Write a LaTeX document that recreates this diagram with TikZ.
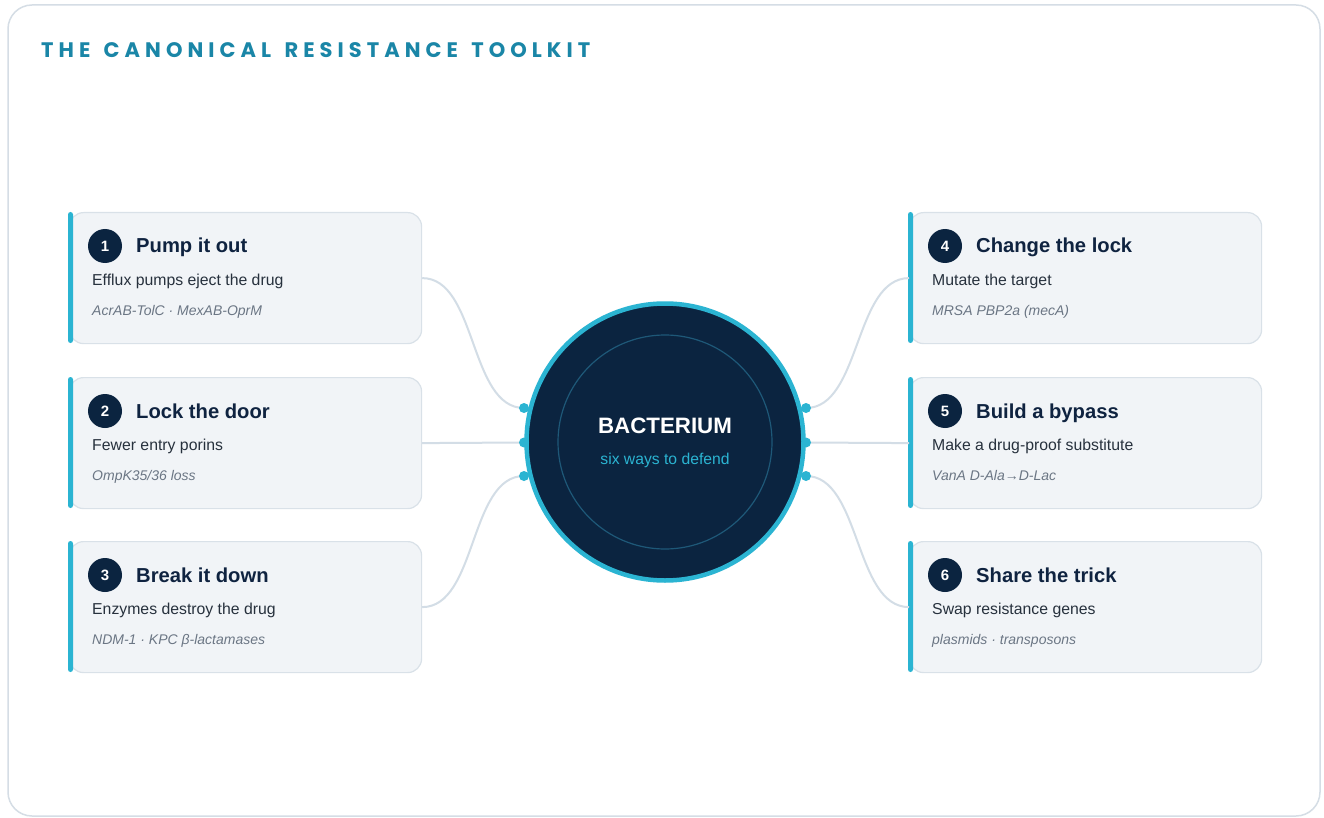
\documentclass[tikz,border=0pt]{standalone}
\usepackage{fontspec}
\setmainfont{Liberation Sans}
\newfontfamily\titlefont[LetterSpace=24,WordSpace=1.4]{Poppins}

\definecolor{accent}{HTML}{2BB4D2}
\definecolor{navy}{HTML}{0B2440}
\definecolor{cardfill}{HTML}{F1F4F7}
\definecolor{cardline}{HTML}{D9E1E8}
\definecolor{connline}{HTML}{D3DDE6}
\definecolor{titleblue}{HTML}{1A86A7}
\definecolor{headtext}{HTML}{0F2340}
\definecolor{bodytext}{HTML}{27313D}
\definecolor{codetext}{HTML}{6B7684}
\definecolor{ringline}{HTML}{1E5878}
\definecolor{frameline}{HTML}{D5DDE5}

\tikzset{
  card/.style={draw=cardline, fill=cardfill, line width=1.2, rounded corners=14,
    minimum width=352, minimum height=131, anchor=north west, inner sep=0},
  numdot/.style={circle, fill=navy, minimum size=34, inner sep=0, text=white,
    font=\bfseries\fontsize{15}{18}\selectfont},
  headline/.style={anchor=base west, inner sep=0, text=headtext,
    font=\bfseries\fontsize{20.2}{24}\selectfont},
  bodyline/.style={anchor=base west, inner sep=0, text=bodytext,
    font=\fontsize{15.8}{18}\selectfont},
  codeline/.style={anchor=base west, inner sep=0, text=codetext,
    font=\itshape\fontsize{14}{16}\selectfont},
  conn/.style={draw=connline, line width=2},
  port/.style={circle, fill=accent, minimum size=10, inner sep=0},
}

% name, x, y, number, heading, line, examples
\newcommand\resistcard[7]{%
  \node[card] (#1) at (#2+1,#3) {};
  \fill[accent, rounded corners=2.5] (#2,#3) rectangle (#2+5,#3+131);
  \node[numdot] (#1num) at (#2+37,#3+34) {#4};
  \node[headline] (#1head) at (#2+68,#3+41) {#5};
  \node[bodyline] (#1body) at (#2+24,#3+73) {#6};
  \node[codeline] (#1code) at (#2+24,#3+103) {#7};
}

\begin{document}
\begin{tikzpicture}[x=1pt,y=-1pt]
\useasboundingbox (0,0) rectangle (1324,818);
\fill[white] (0,0) rectangle (1324,818);

% outer frame
\draw[frameline, line width=1.5, fill=white, rounded corners=24] (8,5) rectangle (1320,816);

% heading
\node[anchor=base west, inner sep=0, text=titleblue,
  font=\titlefont\bfseries\fontsize{21}{24}\selectfont] (title) at (41,58)
  {THE CANONICAL RESISTANCE TOOLKIT};

% cards
\resistcard{c1}{68}{212}{1}{Pump it out}{Efflux pumps eject the drug}{AcrAB-TolC · MexAB-OprM}
\resistcard{c2}{68}{377}{2}{Lock the door}{Fewer entry porins}{OmpK35/36 loss}
\resistcard{c3}{68}{541}{3}{Break it down}{Enzymes destroy the drug}{NDM-1 · KPC β-lactamases}
\resistcard{c4}{908}{212}{4}{Change the lock}{Mutate the target}{MRSA PBP2a (mecA)}
\resistcard{c5}{908}{377}{5}{Build a bypass}{Make a drug-proof substitute}{VanA D-Ala→D-Lac}
\resistcard{c6}{908}{541}{6}{Share the trick}{Swap resistance genes}{plasmids · transposons}

% attachment points on the cell wall
\coordinate (a1) at (524,408);
\coordinate (a2) at (524,442.5);
\coordinate (a3) at (524,476);
\coordinate (a4) at (806,408);
\coordinate (a5) at (806,442.5);
\coordinate (a6) at (806,476);

% connectors
\draw[conn] (c1.east) .. controls +(55,0) and +(-55,0) .. (a1);
\draw[conn] (c2.east) -- (a2);
\draw[conn] (c3.east) .. controls +(55,0) and +(-55,0) .. (a3);
\draw[conn] (c4.west) .. controls +(-55,0) and +(55,0) .. (a4);
\draw[conn] (c5.west) -- (a5);
\draw[conn] (c6.west) .. controls +(-55,0) and +(55,0) .. (a6);

% the cell
\node[circle, fill=navy, draw=accent, line width=4.5, minimum size=277, inner sep=0] (bact) at (665,442) {};
\draw[ringline, line width=1.2] (bact.center) circle (107);
\node[anchor=base, inner sep=0, text=white, font=\bfseries\fontsize{22.3}{26}\selectfont] (bname) at (665,433) {BACTERIUM};
\node[anchor=base, inner sep=0, text=accent, font=\fontsize{15.7}{18}\selectfont] (bsub) at (665,464) {six ways to defend};

% ports
\foreach \i in {1,...,6} \node[port] (p\i) at (a\i) {};
\end{tikzpicture}
\end{document}
